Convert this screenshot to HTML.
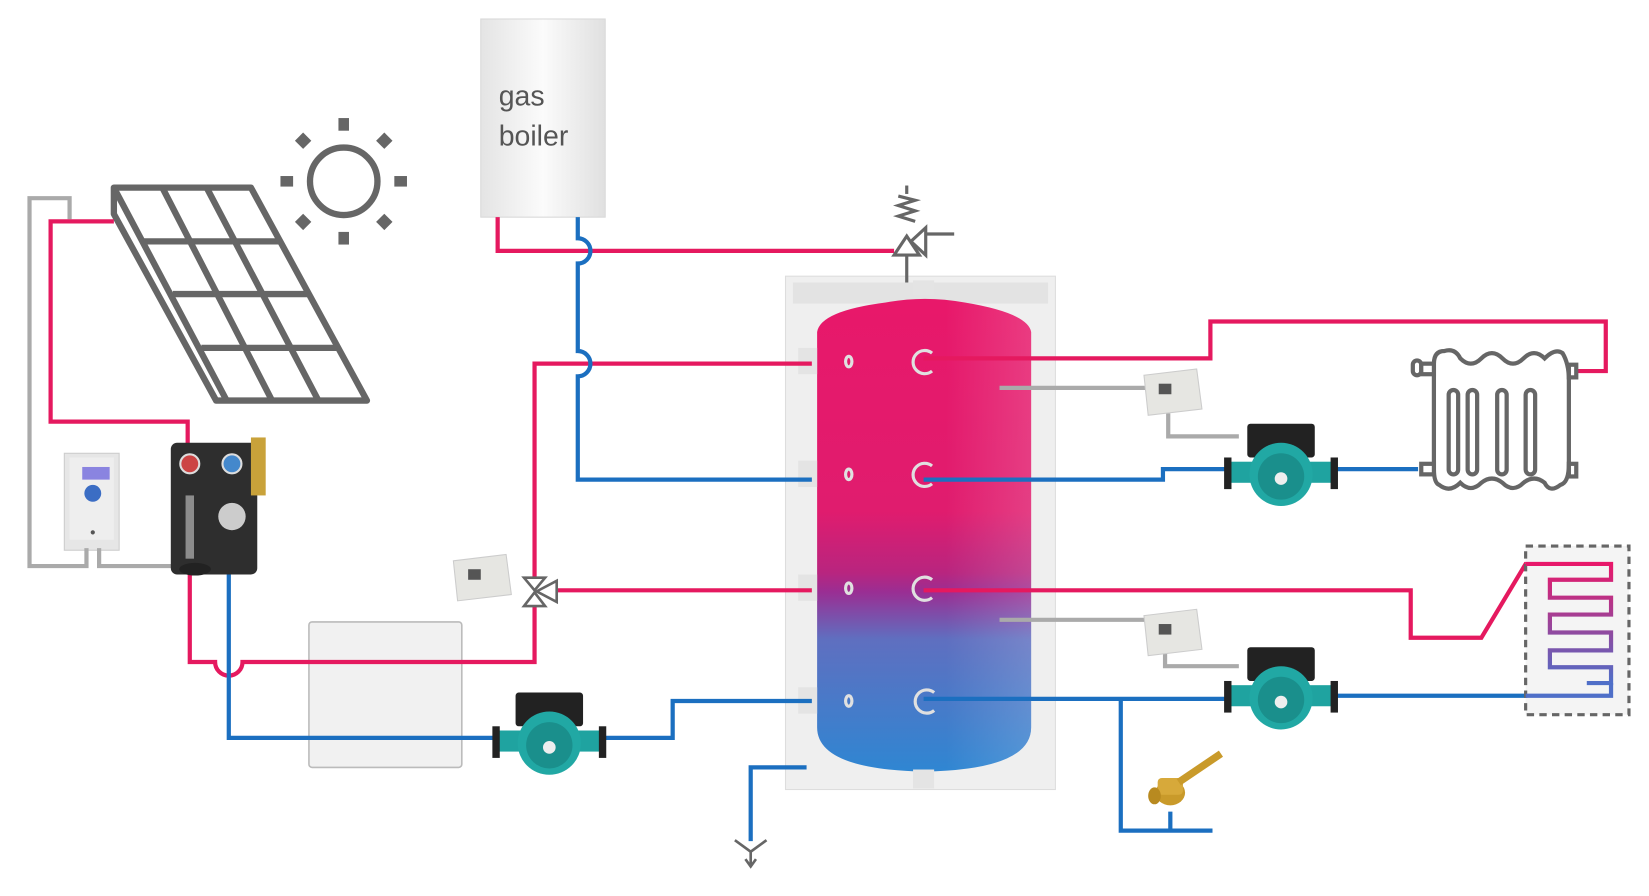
<!DOCTYPE html>
<html><head><meta charset="utf-8"><style>html,body{margin:0;padding:0;background:#fff;}svg{display:block}</style></head>
<body>
<svg width="1649" height="896" viewBox="0 0 1564 850" preserveAspectRatio="none" xmlns="http://www.w3.org/2000/svg">
<defs>
<linearGradient id="tankg" x1="0" y1="0" x2="0" y2="1">
<stop offset="0" stop-color="#e8186a"/><stop offset="0.45" stop-color="#e01c6e"/><stop offset="0.58" stop-color="#b8257f"/><stop offset="0.62" stop-color="#9a2e93"/><stop offset="0.72" stop-color="#5f6fc0"/><stop offset="1" stop-color="#2f86d2"/></linearGradient>
<linearGradient id="tankh" x1="0" y1="0" x2="1" y2="0">
<stop offset="0" stop-color="#fff" stop-opacity="0"/><stop offset="0.6" stop-color="#fff" stop-opacity="0"/><stop offset="1" stop-color="#fff" stop-opacity="0.15"/></linearGradient>
<linearGradient id="boil" x1="0" y1="0" x2="1" y2="0"><stop offset="0" stop-color="#e4e4e4"/><stop offset="0.5" stop-color="#fbfbfb"/><stop offset="1" stop-color="#e0e0e0"/></linearGradient>
<linearGradient id="ufh" x1="0" y1="0" x2="0" y2="1"><stop offset="0" stop-color="#e8186a"/><stop offset="1" stop-color="#4f6fc8"/></linearGradient>
<g id="pump">
<rect x="-32" y="-48" width="64" height="32" rx="3" fill="#222"/>
<rect x="-48" y="-12" width="96" height="20" fill="#1fa3a0"/>
<rect x="-54" y="-16" width="7" height="30" fill="#222"/>
<rect x="47" y="-16" width="7" height="30" fill="#222"/>
<circle cx="0" cy="0" r="30" fill="#21a8a4"/>
<circle cx="0" cy="2" r="22" fill="#1a8f8c"/>
<circle cx="0" cy="4" r="6" fill="#eee"/>
</g>
<g id="thermo">
<path d="M0,6 L50,0 L55,38 L4,44 Z" fill="#e6e6e2" stroke="#ccc"/>
<rect x="14" y="14" width="12" height="10" fill="#555"/>
</g>
</defs>

<!-- sun -->
<circle cx="326" cy="172" r="32" fill="none" stroke="#666" stroke-width="6"/>
<g fill="#666">
<rect x="321" y="112" width="10" height="12"/><rect x="321" y="220" width="10" height="12"/>
<rect x="266" y="167" width="12" height="10"/><rect x="374" y="167" width="12" height="10"/>
<rect x="282" y="128" width="11" height="11" transform="rotate(45 287.5 133.5)"/>
<rect x="359" y="128" width="11" height="11" transform="rotate(45 364.5 133.5)"/>
<rect x="282" y="205" width="11" height="11" transform="rotate(45 287.5 210.5)"/>
<rect x="359" y="205" width="11" height="11" transform="rotate(45 364.5 210.5)"/>
</g>
<!-- solar panel -->
<g stroke="#666" stroke-width="6" fill="none" stroke-linejoin="round">
<path d="M108,178 L238,178 L348,380 L205,380 L108,203 Z"/>
<path d="M108,178 L215,380"/>
<path d="M154,178 L258,380 M196,178 L302,380"/>
<path d="M136,229 L266,229 M164,279 L294,279 M191,330 L321,330"/>
</g>

<!-- controller -->
<rect x="61" y="430" width="52" height="92" fill="#e6e6e6" stroke="#ccc"/>
<rect x="66" y="434" width="42" height="78" fill="#eee"/>
<rect x="78" y="443" width="26" height="12" fill="#8a84e0"/>
<circle cx="88" cy="468" r="8" fill="#3b6dc4"/>
<circle cx="88" cy="505" r="2" fill="#555"/>

<!-- boiler -->
<rect x="456" y="18" width="118" height="188" fill="url(#boil)" stroke="#d8d8d8"/>
<text x="473" y="100" font-family="Liberation Sans, sans-serif" font-size="27" fill="#555">gas</text>
<text x="473" y="138" font-family="Liberation Sans, sans-serif" font-size="27" fill="#555">boiler</text>

<!-- heat exchanger -->
<rect x="293" y="590" width="145" height="138" rx="3" fill="#f1f1f1" stroke="#bbb" stroke-width="1.5"/>

<!-- tank -->
<rect x="745" y="262" width="256" height="487" fill="#efefef" stroke="#ddd"/>
<rect x="752" y="268" width="242" height="20" fill="#e3e3e3"/>
<path d="M775,315 Q778,295 840,287 Q877,280 915,287 Q975,297 978,315 L978,690 Q978,730 877,732 Q775,730 775,690 Z" fill="url(#tankg)"/>
<path d="M775,315 Q778,295 840,287 Q877,280 915,287 Q975,297 978,315 L978,690 Q978,730 877,732 Q775,730 775,690 Z" fill="url(#tankh)"/>
<g fill="#e4e4e4"><rect x="757" y="330" width="18" height="25"/><rect x="757" y="437" width="18" height="25"/><rect x="757" y="545" width="18" height="25"/><rect x="757" y="652" width="18" height="25"/><rect x="866" y="730" width="20" height="18"/><rect x="866" y="266" width="20" height="14"/></g>
<g fill="none" stroke="#e0e0e0" stroke-width="3">
<ellipse cx="805" cy="343" rx="3" ry="5"/><ellipse cx="805" cy="450" rx="3" ry="5"/><ellipse cx="805" cy="558" rx="3" ry="5"/><ellipse cx="805" cy="665" rx="3" ry="5"/>
<path d="M884,335 A11,11 0 1 0 884,352"/><path d="M884,442 A11,11 0 1 0 884,459"/><path d="M884,550 A11,11 0 1 0 884,567"/><path d="M886,657 A11,11 0 1 0 886,674"/>
</g>

<!-- gray wires -->
<g stroke="#aaa" stroke-width="4" fill="none">
<path d="M66,208 L66,188 L28,188 L28,537 L82,537 L82,520"/>
<path d="M94,520 L94,537 L178,537"/>
<path d="M948,368 L1088,368"/>
<path d="M1108,392 L1108,414 L1175,414"/>
<path d="M948,588 L1090,588"/>
<path d="M1105,612 L1105,632 L1175,632"/>
</g>

<!-- red pipes -->
<g stroke="#e5195f" stroke-width="4" fill="none">
<path d="M108,210 L48,210 L48,400 L178,400 L178,430"/>
<path d="M180,545 L180,628 L204,628 A13,13 0 0 0 230,628 L507,628 L507,575"/>
<path d="M507,548 L507,345 L770,345"/>
<path d="M472,206 L472,238 L848,238"/>
<path d="M528,560 L770,560"/>
<path d="M876,340 L1148,340 L1148,305 L1523,305 L1523,352 L1492,352"/>
<path d="M876,560 L1338,560 L1338,605 L1405,605 L1447,535 L1528,535"/>
</g>
<!-- blue pipes -->
<g stroke="#1b6fc0" stroke-width="4" fill="none">
<path d="M217,545 L217,700 L475,700"/>
<path d="M570,700 L638,700 L638,665 L770,665"/>
<path d="M548,206 L548,226 A12,12 0 0 1 548,250 L548,333 A12,12 0 0 1 548,357 L548,455 L770,455"/>
<path d="M876,455 L1103,455 L1103,445 L1165,445"/>
<path d="M1265,445 L1345,445"/>
<path d="M876,663 L1165,663"/>
<path d="M1265,660 L1528,660"/>
<path d="M1063,663 L1063,788 L1150,788 M1110,770 L1110,788"/>
<path d="M765,728 L712,728 L712,798"/>
</g>
<!-- drain -->
<g stroke="#666" stroke-width="2.5" fill="none"><path d="M697,797 L712,808 L727,797 M712,808 L712,820"/><path d="M707,815 L712,822 L717,815"/></g>

<!-- safety valve -->
<g stroke="#666" stroke-width="3" fill="#fff">
<path d="M860,176 L860,184" fill="none"/>
<path d="M852,186 L868,190 L852,195 L868,200 L852,205 L868,210" fill="none"/>
<path d="M848,242 L872,242 L860,224 Z"/>
<path d="M878,216 L878,242 L864,229 Z"/>
<path d="M878,222 L905,222 M860,242 L860,268" fill="none"/>
</g>

<!-- 3-way valve -->
<g stroke="#666" stroke-width="2.5" fill="#fff">
<path d="M497,548 L517,548 L507,560 Z"/><path d="M497,575 L517,575 L507,562 Z"/><path d="M509,561 L528,551 L528,571 Z"/>
</g>

<!-- thermostats -->
<use href="#thermo" x="430" y="526"/>
<use href="#thermo" x="1085" y="350"/>
<use href="#thermo" x="1085" y="578"/>

<!-- pumps -->
<use href="#pump" x="521" y="705"/>
<use href="#pump" x="1215" y="450"/>
<use href="#pump" x="1215" y="662"/>

<!-- solar station -->
<rect x="162" y="420" width="82" height="125" rx="6" fill="#2e2e2e"/>
<circle cx="180" cy="440" r="9" fill="#c44" stroke="#ddd" stroke-width="2"/>
<circle cx="220" cy="440" r="9" fill="#48c" stroke="#ddd" stroke-width="2"/>
<circle cx="220" cy="490" r="13" fill="#ccc"/>
<rect x="176" y="470" width="8" height="60" fill="#ccc" opacity="0.6"/>
<rect x="238" y="415" width="14" height="55" fill="#c9a23a"/>
<ellipse cx="185" cy="540" rx="15" ry="6" fill="#222"/>

<!-- radiator -->
<g stroke="#666" stroke-width="4" fill="#fff">
<path d="M1360,345 Q1360,333 1370,333 Q1380,330 1385,340 Q1395,350 1405,340 Q1415,330 1425,340 Q1435,350 1445,340 Q1455,330 1465,340 Q1475,330 1482,335 Q1488,345 1488,360 L1488,440 Q1488,458 1480,460 Q1470,468 1465,458 Q1455,450 1445,458 Q1435,468 1425,458 Q1415,450 1405,458 Q1395,468 1385,458 Q1375,468 1365,460 Q1360,458 1360,445 Z"/>
<rect x="1374" y="370" width="9" height="80" rx="4.5"/><rect x="1392" y="370" width="9" height="80" rx="4.5"/><rect x="1420" y="370" width="9" height="80" rx="4.5"/><rect x="1447" y="370" width="9" height="80" rx="4.5"/>
<rect x="1340" y="342" width="8" height="14" rx="4"/><rect x="1348" y="345" width="12" height="10"/>
<rect x="1348" y="440" width="12" height="10"/><rect x="1488" y="346" width="7" height="12"/><rect x="1488" y="440" width="7" height="12"/>
</g>

<!-- underfloor -->
<rect x="1447" y="518" width="98" height="160" fill="#f4f4f4" stroke="#666" stroke-width="3" stroke-dasharray="7,5"/>
<path d="M1447,535 L1528,535 L1528,550 L1470,550 L1470,567 L1528,567 L1528,583 L1470,583 L1470,600 L1528,600 L1528,617 L1470,617 L1470,633 L1528,633 L1528,648 L1505,648" stroke="url(#ufh)" stroke-width="4" fill="none"/>
<path d="M1447,660 L1528,660 L1528,648" stroke="#4f6fc8" stroke-width="4" fill="none"/>

<!-- brass valve -->
<g>
<ellipse cx="1110" cy="752" rx="14" ry="12" fill="#c99a2a"/>
<rect x="1098" y="738" width="24" height="16" rx="4" fill="#d7a93a"/>
<path d="M1118,742 L1158,715" stroke="#c99a2a" stroke-width="7"/>
<ellipse cx="1095" cy="755" rx="6" ry="8" fill="#b88a20"/>
</g>
</svg>
</body></html>
